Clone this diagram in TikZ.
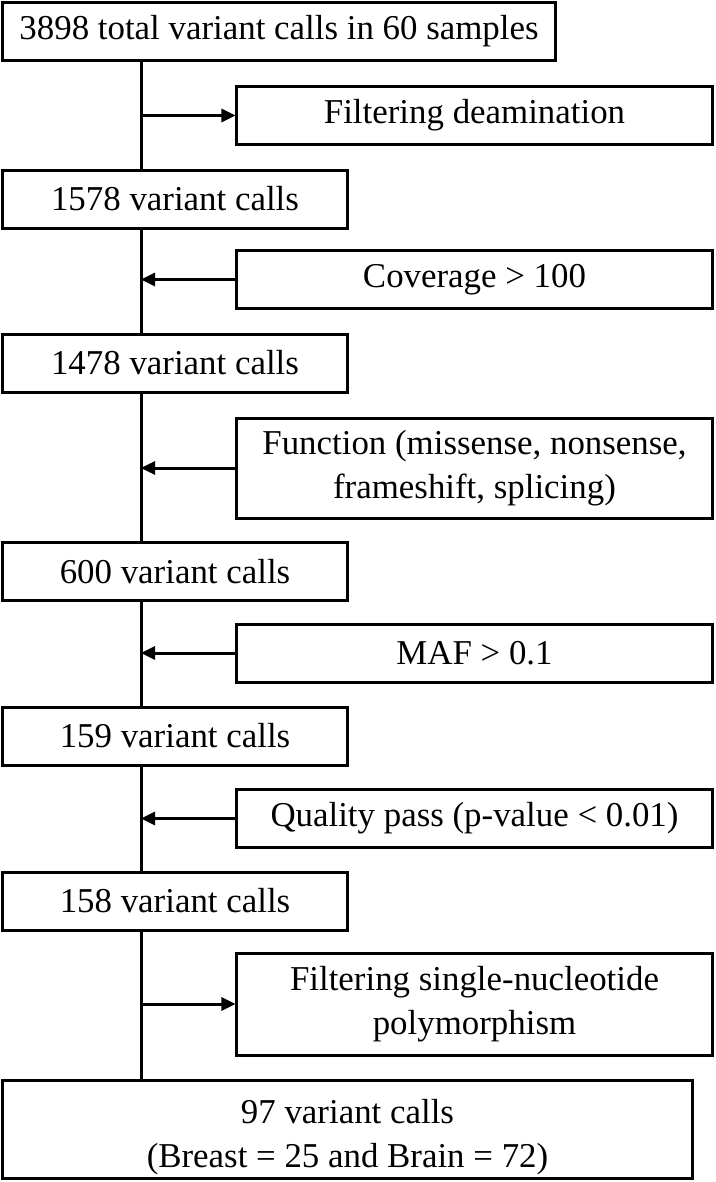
\documentclass[tikz,border=0pt]{standalone}
\usepackage{fontspec}
\setmainfont{Liberation Serif}
\usetikzlibrary{arrows.meta}

\begin{document}
\begin{tikzpicture}[x=1bp,y=-1bp]
\tikzstyle{every node}+=[inner sep=0pt, font=\fontsize{35}{44}\selectfont]
\tikzstyle{stage}=[draw, line width=3bp, align=center, minimum height=58bp]
\tikzstyle{calls}=[stage, minimum width=344bp]
\tikzstyle{filt}=[stage, minimum width=475bp]
\tikzstyle{flow}=[line width=3bp, -{Triangle[length=14bp,width=13bp]}]
\useasboundingbox (0,0) rectangle (716,1182);
\coordinate (s) at (141,0);
% counts on the left
\node [stage, minimum width=552bp] (n0) at (279,31.5) {3898 total variant calls in 60 samples};
\node [calls] (n1) at (175,199) {1578 variant calls};
\node [calls] (n2) at (175,363) {1478 variant calls};
\node [calls] (n3) at (175,571.5) {600 variant calls};
\node [calls] (n4) at (175,736) {159 variant calls};
\node [calls] (n5) at (175,901) {158 variant calls};
\node [stage, minimum width=689bp, minimum height=98bp] (n6) at (347.5,1129) {\rule{0pt}{40bp}97 variant calls\\(Breast = 25 and Brain = 72)};
% filters on the right
\node [filt] (f1) at (474.5,115.5) {Filtering deamination};
\node [filt] (f2) at (474.5,279.5) {Coverage > 100};
\node [filt, minimum height=100bp] (f3) at (474.5,468) {Function (missense, nonsense,\\frameshift, splicing)};
\node [filt] (f4) at (474.5,653) {MAF > 0.1};
\node [filt] (f5) at (474.5,818.5) {Quality pass (p-value < 0.01)};
\node [filt, minimum height=102bp] (f6) at (474.5,1004) {Filtering single-nucleotide\\polymorphism};
% spine
\foreach \a/\b in {n0/n1,n1/n2,n2/n3,n3/n4,n4/n5,n5/n6}
  \draw [line width=3bp] (\a.south -| s) -- (\b.north -| s);
\draw [flow] (f1.west -| s) -- (f1.west);
\draw [flow] (f2.west) -- (f2.west -| s);
\draw [flow] (f3.west) -- (f3.west -| s);
\draw [flow] (f4.west) -- (f4.west -| s);
\draw [flow] (f5.west) -- (f5.west -| s);
\draw [flow] (f6.west -| s) -- (f6.west);
\end{tikzpicture}
\end{document}
